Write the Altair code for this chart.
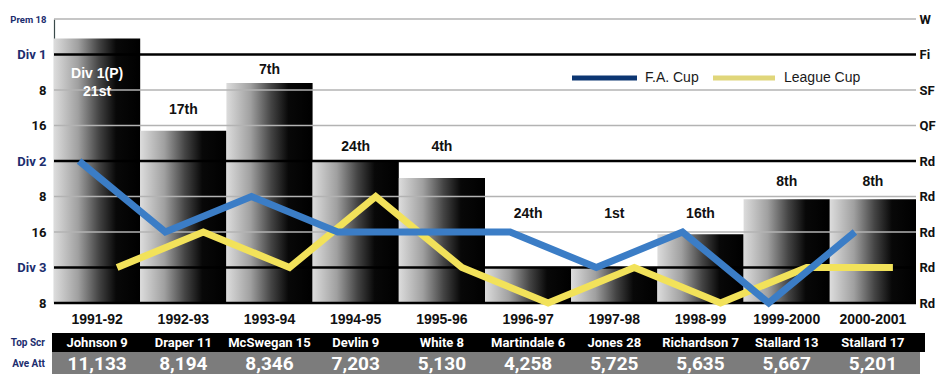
import altair as alt
import pandas as pd

# ---------------- data ----------------
seasons = ["1991-92", "1992-93", "1993-94", "1994-95", "1995-96",
           "1996-97", "1997-98", "1998-99", "1999-2000", "2000-2001"]
# league standing on the ladder (axis units: 0 = bottom "8", 8 = "Prem 18")
league_level = [7.45, 4.85, 6.2, 3.97, 3.52, 1.02, 0.99, 1.94, 2.92, 2.92]
finish = ["21st", "17th", "7th", "24th", "4th", "24th", "1st", "16th", "8th", "8th"]
finish_label_level = [5.95, 5.45, 6.55, 4.4, 4.4, 2.5, 2.5, 2.5, 3.4, 3.4]
note_season = ["1991-92"]
note_text = ["Div 1(P)"]
note_level = [6.45]
# cup rounds reached (0 = lowest "Rd" ... 5 = QF, 6 = SF, 7 = Final, 8 = Winners)
fa_cup = [4, 2, 3, 2, 2, 2, 1, 2, 0, 2]
league_cup = [1, 2, 1, 3, 1, 0, 1, 0, 1, 1]
top_scorer = ["Johnson 9", "Draper 11", "McSwegan 15", "Devlin 9", "White 8",
              "Martindale 6", "Jones 28", "Richardson 7", "Stallard 13", "Stallard 17"]
ave_att = [11133, 8194, 8346, 7203, 5130, 4258, 5725, 5635, 5667, 5201]

left_ticks = ["8", "Div 3", "16", "8", "Div 2", "16", "8", "Div 1", "Prem 18"]
right_ticks = ["Rd", "Rd", "Rd", "Rd", "Rd", "QF", "SF", "Fi", "W"]
minor_levels = [8, 6, 5, 3, 2]
major_levels = [7, 4, 1, 0]
legend_names = ["F.A. Cup", "League Cup"]
row_names = ["Top Scr", "Ave Att"]

# ---------------- layout / style ----------------
W, H = 862, 284
ROBOTO = "Roboto, 'Liberation Sans', Arial, sans-serif"
SANS = "'Liberation Sans', Arial, sans-serif"
NAVY = "#1c2d6e"
BLUE = "#3b7dc6"
YELLOW = "#f2e25a"

df = pd.DataFrame({
    "season": seasons, "level": league_level, "finish": finish,
    "flevel": finish_label_level, "fa": fa_cup, "lc": league_cup,
    "scorer": top_scorer, "att": ave_att,
})
notes = pd.DataFrame({"season": note_season, "text": note_text, "level": note_level})
minor_df = pd.DataFrame({"g": minor_levels})
major_df = pd.DataFrame({"g": major_levels})
one = pd.DataFrame({"k": [0]})


def js_list(items):
    return "[" + ",".join("'" + s + "'" for s in items) + "]"


x_axis = alt.Axis(title=None, labelFont=SANS, labelFontWeight="bold", labelFontSize=14,
                  labelColor="#111", labelPadding=9, ticks=False, tickSize=0,
                  domain=False, labelAngle=0, grid=False)
x_enc = alt.X("season:N", sort=seasons,
              scale=alt.Scale(paddingInner=0, paddingOuter=0), axis=x_axis)

yscale = alt.Scale(domain=[0, 8], nice=False, zero=False)
left_axis = alt.Axis(
    title=None, values=list(range(9)), labelExpr=js_list(left_ticks) + "[datum.value]",
    labelFont=ROBOTO, labelFontWeight="bold",
    labelFontSize={"condition": {"test": "datum.value == 8", "value": 9.5}, "value": 13},
    labelColor={"condition": {"test": "datum.value % 3 == 1 || datum.value == 8", "value": NAVY},
                "value": "#111"},
    labelPadding=8, ticks=False, grid=False, domain=True, domainColor="#3a4a4a",
    domainWidth=1.2, labelBaseline="middle")
right_axis = alt.Axis(
    title=None, orient="right", values=list(range(9)),
    labelExpr=js_list(right_ticks) + "[datum.value]",
    labelFont=ROBOTO, labelFontWeight="bold", labelFontSize=13, labelColor="#111",
    labelPadding=3, ticks=False, grid=False, domain=False, labelBaseline="middle")


def Y(field):
    return alt.Y(field, scale=yscale, axis=left_axis)


gradient = alt.Gradient(
    gradient="linear",
    stops=[alt.GradientStop(color="#dcdcdc", offset=0),
           alt.GradientStop(color="#a0a0a0", offset=0.28),
           alt.GradientStop(color="#444444", offset=0.52),
           alt.GradientStop(color="#080808", offset=0.72),
           alt.GradientStop(color="#000000", offset=1)],
    x1=0, x2=1, y1=0, y2=0)

base = alt.Chart(df)

bars = base.mark_bar(color=gradient).encode(x=x_enc, y=Y("level:Q"))

minor = alt.Chart(minor_df).mark_rule(color="#b3b3b3", strokeWidth=1.6).encode(y=Y("g:Q"))
major = alt.Chart(major_df).mark_rule(color="#000", strokeWidth=2.6).encode(y=Y("g:Q"))

lc_line = base.mark_line(color=YELLOW, strokeWidth=7, xOffset=20).encode(x=x_enc, y=Y("lc:Q"))

finish_text = base.mark_text(font=SANS, fontWeight="bold", fontSize=14, baseline="middle").encode(
    x=x_enc, y=Y("flevel:Q"), text="finish:N",
    color=alt.condition(alt.datum.season == "1991-92", alt.value("white"), alt.value("#111")))
note_txt = alt.Chart(notes).mark_text(font=SANS, fontWeight="bold", fontSize=14,
                                      color="white", baseline="middle").encode(
    x=x_enc, y=Y("level:Q"), text="text:N")

# table rows under the chart
band_black = alt.Chart(one).mark_rect(color="#000").encode(
    x=alt.value(-2), x2=alt.value(W + 9), y=alt.value(314), y2=alt.value(333))
band_grey = alt.Chart(one).mark_rect(color="#7c7c7c").encode(
    x=alt.value(-2), x2=alt.value(W + 4), y=alt.value(333), y2=alt.value(370))
scorer_text = base.mark_text(font=ROBOTO, fontWeight="bold", fontSize=13, color="white",
                             baseline="middle").encode(x=x_enc, y=alt.value(323.5), text="scorer:N")
att_text = base.mark_text(font=ROBOTO, fontWeight="bold", fontSize=19, color="white",
                          baseline="middle").encode(
    x=x_enc, y=alt.value(345), text=alt.Text("att:Q", format=","))
row_titles = alt.Chart(pd.DataFrame({"t": row_names, "yy": [323.5, 345]})).mark_text(
    font=ROBOTO, fontWeight="bold", fontSize=10, color=NAVY, align="right",
    baseline="middle").encode(x=alt.value(-9), y=alt.Y("yy:Q", scale=None), text="t:N")

# legend
leg_blue = alt.Chart(one).mark_rule(color="#0c3672", strokeWidth=5).encode(
    x=alt.value(518), x2=alt.value(583), y=alt.value(59))
leg_yel = alt.Chart(one).mark_rule(color="#e0d67a", strokeWidth=5).encode(
    x=alt.value(659), x2=alt.value(721), y=alt.value(59))
leg_t1 = alt.Chart(one).mark_text(font=SANS, fontSize=14, color="#1a1a1a", align="left",
                                  baseline="middle", text=legend_names[0]).encode(
    x=alt.value(591), y=alt.value(59))
leg_t2 = alt.Chart(one).mark_text(font=SANS, fontSize=14, color="#1a1a1a", align="left",
                                  baseline="middle", text=legend_names[1]).encode(
    x=alt.value(730), y=alt.value(59))

inner = alt.layer(bars, minor, major, lc_line, finish_text, note_txt,
                  band_black, band_grey, scorer_text, att_text, row_titles,
                  leg_blue, leg_yel, leg_t1, leg_t2)

fa_line = base.mark_line(color=BLUE, strokeWidth=7, xOffset=-18).encode(
    x=x_enc, y=alt.Y("fa:Q", scale=yscale, axis=right_axis))

chart = alt.layer(inner, fa_line).resolve_scale(y="independent").properties(
    width=W, height=H,
    autosize=alt.AutoSizeParams(type="none"),
    padding={"left": 46, "top": 11, "right": 928 - 46 - W, "bottom": 71},
    background="white",
).configure_view(stroke=None)

chart.save("out.html", embed_options={"renderer": "svg", "actions": False})
